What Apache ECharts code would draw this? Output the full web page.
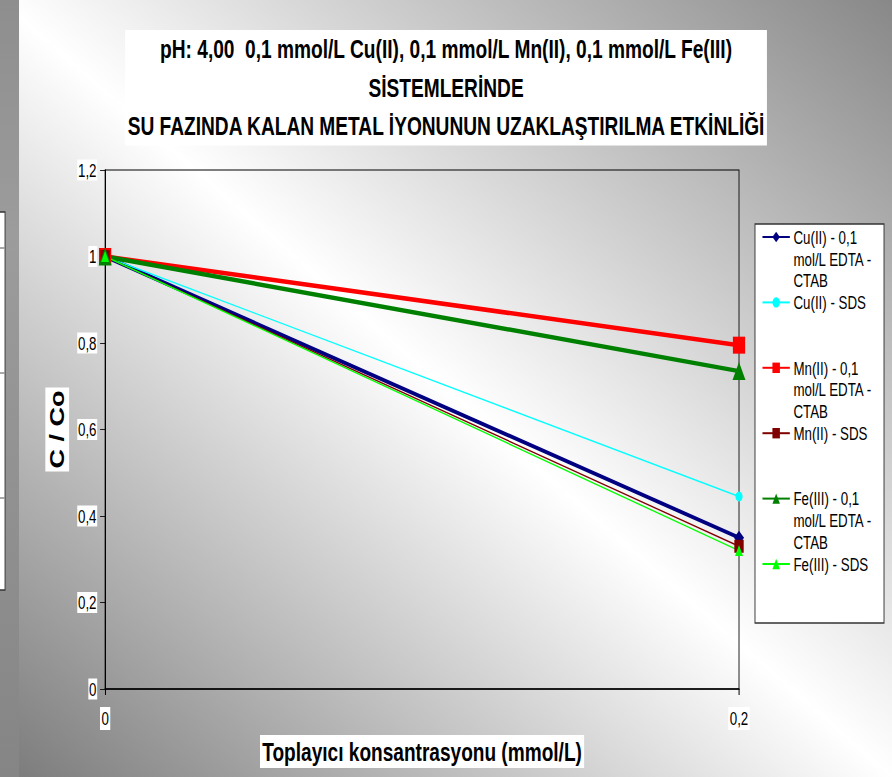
<!DOCTYPE html>
<html>
<head>
<meta charset="utf-8">
<script src="https://cdn.jsdelivr.net/npm/echarts@6/dist/echarts.min.js"></script>
<style>
  html, body { margin: 0; padding: 0; width: 892px; height: 777px; overflow: hidden; background: #fff; }
  /* the chart is laid out wide and drawn with condensed proportions */
  #chart { width: 1239px; height: 777px; transform: scaleX(0.72); transform-origin: 0 0; }
</style>
</head>
<body>
<div id="chart"></div>
<script>
// Collector concentration (mmol/L)
const categories = ['0', '0,2'];

// C / Co values for each system
const cuEdta = [1, 0.35];
const cuSds  = [1, 0.445];
const mnEdta = [1, 0.795];
const mnSds  = [1, 0.33];
const feEdta = [1, 0.735];
const feSds  = [1, 0.32];

const seriesNames = [
  'Cu(II) - 0,1 mol/L EDTA - CTAB',
  'Cu(II) - SDS',
  'Mn(II) - 0,1 mol/L EDTA - CTAB',
  'Mn(II) - SDS',
  'Fe(III) - 0,1 mol/L EDTA - CTAB',
  'Fe(III) - SDS'
];

const yMin = 0;
const yMax = 1.2;
const yStep = 0.2;

const titleLines = [
  'pH: 4,00  0,1 mmol/L Cu(II), 0,1 mmol/L Mn(II), 0,1 mmol/L Fe(III)',
  'SİSTEMLERİNDE',
  'SU FAZINDA KALAN METAL İYONUNUN UZAKLAŞTIRILMA ETKİNLİĞİ'
];
const xName = 'Toplayıcı konsantrasyonu (mmol/L)';
const yName = 'C / Co';

const FONT = '"Liberation Sans", Arial, sans-serif';
const LH = 21.8; // legend line height

const styles = [
  { color: '#000080', symbol: 'diamond',  size: 14, width: 4 },
  { color: '#00ffff', symbol: 'circle',   size: 10, width: 1.4 },
  { color: '#ff0000', symbol: 'rect',     size: 17, width: 4.5 },
  { color: '#800000', symbol: 'rect',     size: 13, width: 1.4 },
  { color: '#008000', symbol: 'triangle', size: 18, width: 4.5 },
  { color: '#00ff00', symbol: 'triangle', size: 11, width: 1.4 }
];
const values = [cuEdta, cuSds, mnEdta, mnSds, feEdta, feSds];

const series = seriesNames.map((name, i) => ({
  name: name,
  type: 'line',
  data: values[i],
  symbol: styles[i].symbol,
  symbolSize: styles[i].size,
  showSymbol: true,
  color: styles[i].color,
  itemStyle: { color: styles[i].color },
  lineStyle: { color: styles[i].color, width: styles[i].width },
  emphasis: { disabled: true },
  z: 3
}));

const chart = echarts.init(document.getElementById('chart'), null, { renderer: 'svg' });

chart.setOption({
  animation: false,
  backgroundColor: {
    type: 'linear', x: 0, y: 1, x2: 1, y2: 0,
    colorStops: [
      { offset: 0, color: '#7a7a7a' },
      { offset: 0.5, color: '#ffffff' },
      { offset: 1, color: '#888888' }
    ]
  },
  textStyle: { fontFamily: FONT },
  title: {
    text: titleLines.join('\n'),
    left: 'center',
    top: 30,
    padding: [0, 2],
    backgroundColor: '#ffffff',
    textStyle: {
      fontFamily: FONT,
      fontSize: 26.6,
      fontWeight: 'bold',
      color: '#000',
      lineHeight: 38.5
    }
  },
  grid: {
    left: 146,
    right: 212.6,
    top: 170,
    bottom: 88,
    show: true,
    backgroundColor: 'transparent',
    borderColor: '#000',
    borderWidth: 1.2
  },
  legend: {
    orient: 'vertical',
    left: 1058,
    top: 237 - 2.5 * LH,
    padding: 0,
    itemGap: 0,
    itemWidth: 38,
    itemHeight: 13,
    selectedMode: false,
    z: 10,
    // multi-line entries start on the marker row: two empty rows above keep the marker on the first line
    formatter: function (name) {
      if (name.indexOf('CTAB') < 0) return name;
      return '\n\n' + name.replace(' mol/L', '\nmol/L').replace(' CTAB', '\nCTAB');
    },
    textStyle: { fontFamily: FONT, fontSize: 18.5, color: '#000', lineHeight: LH },
    data: seriesNames
  },
  xAxis: {
    type: 'category',
    data: categories,
    boundaryGap: false,
    name: xName,
    nameLocation: 'middle',
    nameGap: 38,
    nameTextStyle: {
      fontFamily: FONT, fontSize: 26.5, fontWeight: 'bold', color: '#000',
      backgroundColor: '#ffffff', padding: [3, 3]
    },
    axisLine: { lineStyle: { color: '#000', width: 1.6 } },
    axisTick: { show: true, length: 6, inside: false, lineStyle: { color: '#000', width: 1.4 } },
    axisLabel: {
      margin: 18, fontSize: 18.5, color: '#000', fontFamily: FONT,
      backgroundColor: '#ffffff', padding: [2, 2]
    },
    splitLine: { show: false }
  },
  yAxis: {
    type: 'value',
    min: yMin,
    max: yMax,
    interval: yStep,
    name: yName,
    nameLocation: 'middle',
    nameRotate: 90,
    nameGap: 50,
    nameTextStyle: {
      fontFamily: FONT, fontSize: 27, fontWeight: 'bold', color: '#000',
      backgroundColor: '#ffffff', padding: [3, 3]
    },
    axisLine: { show: true, lineStyle: { color: '#000', width: 1.4 } },
    axisTick: { show: true, length: 7, lineStyle: { color: '#000', width: 1 } },
    axisLabel: {
      margin: 11, fontSize: 18.5, color: '#000', fontFamily: FONT,
      backgroundColor: '#ffffff', padding: [1, 1],
      formatter: v => String(Math.round(v * 10) / 10).replace('.', ',')
    },
    splitLine: { show: false }
  },
  graphic: [
    // neighbouring panel on the left edge
    {
      type: 'rect', z: 0,
      shape: { x: 0, y: 0, width: 26.4, height: 777 },
      style: {
        fill: {
          type: 'linear', x: 0, y: 0, x2: 0, y2: 1,
          colorStops: [{ offset: 0, color: '#8e8e8e' }, { offset: 0.3, color: '#9c9c9c' }, { offset: 1, color: '#858585' }]
        }
      }
    },
    {
      type: 'rect', z: 1,
      shape: { x: -4, y: 212, width: 11, height: 378 },
      style: { fill: '#ffffff', stroke: '#333', lineWidth: 1.3 }
    },
    { type: 'line', z: 2, shape: { x1: 0, y1: 248, x2: 6, y2: 248 }, style: { stroke: '#333', lineWidth: 1 } },
    { type: 'line', z: 2, shape: { x1: 0, y1: 373, x2: 6, y2: 373 }, style: { stroke: '#333', lineWidth: 1 } },
    { type: 'line', z: 2, shape: { x1: 0, y1: 498, x2: 6, y2: 498 }, style: { stroke: '#333', lineWidth: 1 } },
    // legend frame
    {
      type: 'rect', z: 1,
      shape: { x: 1048.6, y: 224, width: 179.2, height: 399 },
      style: { fill: '#ffffff', stroke: '#333', lineWidth: 1.3 }
    }
  ],
  series: series
});
</script>
</body>
</html>
